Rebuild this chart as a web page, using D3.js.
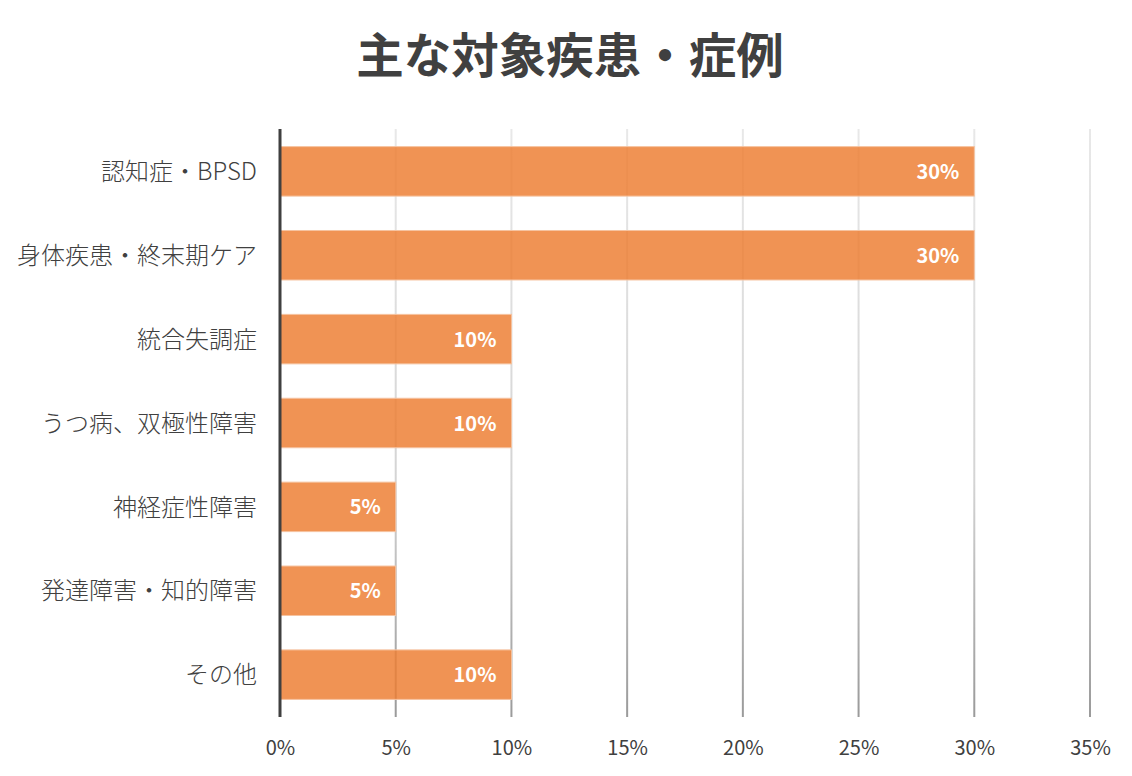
<!DOCTYPE html>
<html lang="ja">
<head>
    <meta charset="UTF-8">
    <script src="https://d3js.org/d3.v7.min.js"></script>
    <style>
        body { margin: 0; background: #fff; }
        text { font-family: "Noto Sans CJK JP", "Open Sans", sans-serif; }
    </style>
</head>
<body>
    <svg id="chart" width="1132" height="776"></svg>
    <script>
        // データ
        const categories = ["認知症・BPSD", "身体疾患・終末期ケア", "統合失調症", "うつ病、双極性障害", "神経症性障害", "発達障害・知的障害", "その他"];
        const values = [30, 30, 10, 10, 5, 5, 10];
        const ticks = [0, 5, 10, 15, 20, 25, 30, 35];

        const width = 1132, height = 776;
        const margin = { top: 129, right: 42, bottom: 59, left: 280 };

        const svg = d3.select("#chart");

        svg.append("text")
            .attr("x", 570)
            .attr("y", 73)
            .attr("text-anchor", "middle")
            .style("font-size", "47.5px")
            .style("font-weight", "bold")
            .attr("fill", "#404040")
            .text("主な対象疾患・症例");

        const x = d3.scaleLinear()
            .domain([0, 35])
            .range([margin.left, width - margin.right]);

        const y = d3.scaleBand()
            .domain(categories)
            .range([margin.top, height - margin.bottom])
            .paddingInner(0.41)
            .paddingOuter(0.21);

        const defs = svg.append("defs");
        const grad = defs.append("linearGradient")
            .attr("id", "gridGrad")
            .attr("gradientUnits", "userSpaceOnUse")
            .attr("x1", 0).attr("x2", 0)
            .attr("y1", margin.top).attr("y2", height - margin.bottom);
        grad.append("stop").attr("offset", "0%").attr("stop-color", "#e8e8e8");
        grad.append("stop").attr("offset", "60%").attr("stop-color", "#d4d4d4");
        grad.append("stop").attr("offset", "100%").attr("stop-color", "#9a9a9a");

        // グリッド線
        svg.append("g")
            .selectAll("rect")
            .data(ticks.filter(d => d > 0))
            .enter().append("rect")
            .attr("x", d => x(d) - 1)
            .attr("y", margin.top)
            .attr("width", 2)
            .attr("height", height - margin.bottom - margin.top)
            .attr("fill", "url(#gridGrad)");

        // バー
        svg.append("g")
            .selectAll("rect")
            .data(values)
            .enter().append("rect")
            .attr("x", x(0))
            .attr("y", (d, i) => y(categories[i]))
            .attr("width", d => x(d) - x(0))
            .attr("height", y.bandwidth())
            .attr("fill", "#ED7D31")
            .attr("fill-opacity", 0.83)
            .attr("stroke", "#f6c3a0")
            .attr("stroke-width", 1);

        // 値ラベル
        svg.append("g")
            .selectAll("text")
            .data(values)
            .enter().append("text")
            .attr("x", d => x(d) - 15)
            .attr("y", (d, i) => y(categories[i]) + y.bandwidth() / 2)
            .attr("dy", "0.38em")
            .attr("text-anchor", "end")
            .attr("fill", "#fff")
            .style("font-size", "20px")
            .style("font-weight", "bold")
            .text(d => d + "%");

        // Y軸
        const yAxis = svg.append("g")
            .attr("transform", `translate(${margin.left},0)`)
            .call(d3.axisLeft(y).tickSize(0).tickPadding(23));
        yAxis.select(".domain").remove();
        yAxis.selectAll("text")
            .attr("fill", "#404040")
            .attr("dy", "0.36em")
            .style("font-size", "24px")
            .style("font-weight", "300");

        svg.append("line")
            .attr("x1", margin.left).attr("x2", margin.left)
            .attr("y1", margin.top).attr("y2", height - margin.bottom)
            .attr("stroke", "#404040")
            .attr("stroke-width", 3);

        // X軸
        const xAxis = svg.append("g")
            .attr("transform", `translate(0,${height - margin.bottom})`)
            .call(d3.axisBottom(x).tickValues(ticks).tickSize(0).tickPadding(24).tickFormat(d => d + "%"));
        xAxis.select(".domain").remove();
        xAxis.selectAll("text")
            .attr("fill", "#404040")
            .style("font-size", "20px");
    </script>
</body>
</html>
